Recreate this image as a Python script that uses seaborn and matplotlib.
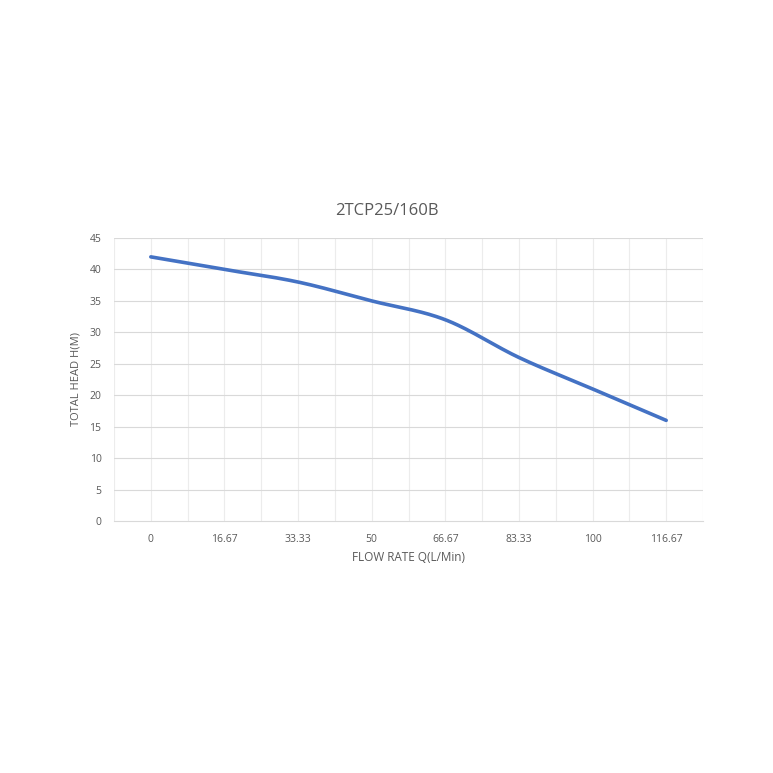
import numpy as np
import pandas as pd
import matplotlib
matplotlib.use("Agg")
import matplotlib.pyplot as plt
import seaborn as sns

# Data
flow_labels = ["0", "16.67", "33.33", "50", "66.67", "83.33", "100", "116.67"]
head_values = [42, 40, 38, 35, 32, 26, 21, 16]
y_ticks = [0, 5, 10, 15, 20, 25, 30, 35, 40, 45]

title_text = "2TCP25/160B"
x_label = "FLOW RATE Q(L/Min)"
y_label = "TOTAL HEAD H(M)"

sns.set_theme(style="white")
plt.rcParams['font.family'] = ['Open Sans', 'DejaVu Sans']

# Smoothed curve (Excel-style Catmull-Rom Bezier) through the data points
pos = np.arange(len(head_values), dtype=float)
vals = np.array(head_values, dtype=float)
def smooth(xp, yp, n=40):
    P = np.column_stack([xp, yp])
    Pe = np.vstack([P[0], P, P[-1]])
    out = []
    for i in range(len(P) - 1):
        p0, p1, p2, p3 = Pe[i], Pe[i + 1], Pe[i + 2], Pe[i + 3]
        c1 = p1 + (p2 - p0) / 6.0
        c2 = p2 - (p3 - p1) / 6.0
        t = np.linspace(0, 1, n, endpoint=(i == len(P) - 2))[:, None]
        seg = (1 - t) ** 3 * p1 + 3 * (1 - t) ** 2 * t * c1 + 3 * (1 - t) * t ** 2 * c2 + t ** 3 * p2
        out.append(seg)
    S = np.vstack(out)
    return S[:, 0], S[:, 1]

sx, sy = smooth(pos, vals)
df = pd.DataFrame({"x": sx, "y": sy})

fig = plt.figure(figsize=(7.73, 7.73), dpi=100)
ax = fig.add_axes([114 / 773, 1 - 521 / 773, (703 - 114) / 773, (521 - 238) / 773])

# gridlines
for v in np.arange(-0.5, len(flow_labels), 0.5):
    ax.axvline(v, color="#ececec", lw=0.8, zorder=0)
for yv in y_ticks[1:]:
    ax.axhline(yv, color="#d9d9d9", lw=0.8, zorder=0)

sns.lineplot(data=df, x="x", y="y", ax=ax, color="#4472C4", lw=2.6, sort=False,
             solid_capstyle="round", zorder=3)

ax.set_xlim(-0.5, len(flow_labels) - 0.5)
ax.set_ylim(0, 45)
ax.set_xticks(pos)
ax.set_xticklabels(flow_labels)
ax.set_yticks(y_ticks)
ax.tick_params(axis="both", length=0, labelsize=7.5, labelcolor="#595959")
ax.tick_params(axis="x", pad=9)
ax.tick_params(axis="y", pad=9)

for s in ["top", "right", "left"]:
    ax.spines[s].set_visible(False)
ax.spines["bottom"].set_color("#d9d9d9")
ax.spines["bottom"].set_linewidth(0.8)

ax.set_xlabel(x_label, fontsize=8.5, color="#595959", labelpad=5)
ax.set_ylabel(y_label, fontsize=8, color="#595959", labelpad=6)
fig.text(0.5, 1 - 211 / 773, title_text, fontsize=12, color="#595959",
         ha="center", va="center")

fig.savefig("out.png", dpi=100, facecolor="white")
